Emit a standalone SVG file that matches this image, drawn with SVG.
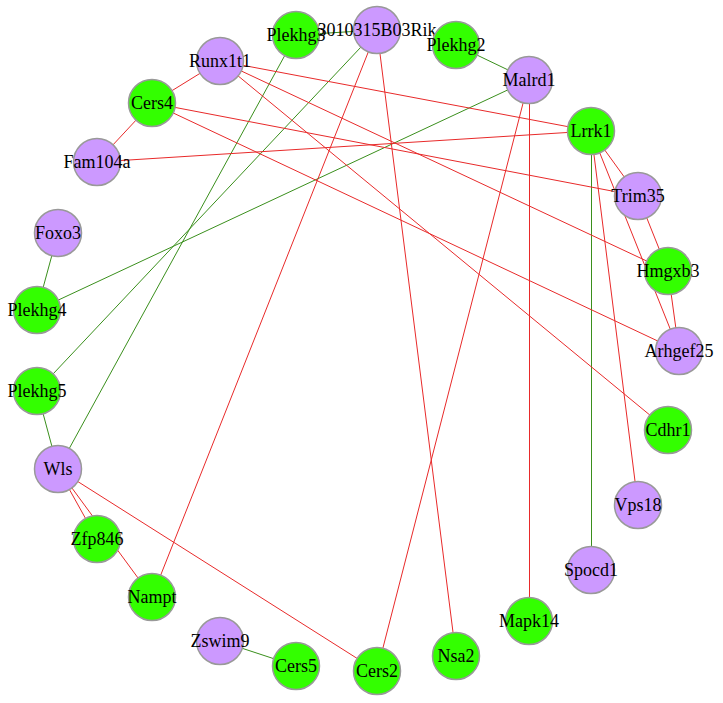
<svg xmlns="http://www.w3.org/2000/svg" width="723" height="703" viewBox="0 0 723 703">
<style>
.r{stroke:#e82a2a;stroke-width:1;fill:none}
.g{stroke:#3a8f1c;stroke-width:1;fill:none}
.p{fill:#cc99ff;stroke:#999999;stroke-width:1.5}
.q{fill:#33ff00;stroke:#999999;stroke-width:1.5}
text{font-family:"Liberation Serif","Times New Roman",serif;font-size:18px;fill:#000;text-anchor:middle}
</style>
<rect width="723" height="703" fill="#ffffff"/>
<g id="connectors">
<line class="g" x1="296" y1="35" x2="377" y2="30"/>
<line class="g" x1="456" y1="45" x2="529" y2="80"/>
<line class="g" x1="296" y1="35" x2="58" y2="469"/>
<line class="g" x1="377" y1="30" x2="37" y2="391"/>
<line class="g" x1="529" y1="80" x2="37" y2="310"/>
<line class="g" x1="58" y1="233" x2="37" y2="310"/>
<line class="g" x1="37" y1="391" x2="58" y2="469"/>
<line class="g" x1="220" y1="641" x2="296" y2="666"/>
<line class="g" x1="591.5" y1="131" x2="591.5" y2="570"/>
<line class="r" x1="220" y1="61" x2="152" y2="103"/>
<line class="r" x1="152" y1="103" x2="97" y2="162"/>
<line class="r" x1="97" y1="162" x2="591" y2="131"/>
<line class="r" x1="220" y1="61" x2="591" y2="131"/>
<line class="r" x1="220" y1="61" x2="668" y2="271"/>
<line class="r" x1="220" y1="61" x2="668" y2="430"/>
<line class="r" x1="152" y1="103" x2="638" y2="196"/>
<line class="r" x1="152" y1="103" x2="679" y2="351"/>
<line class="r" x1="591" y1="131" x2="638" y2="196"/>
<line class="r" x1="591" y1="131" x2="679" y2="351"/>
<line class="r" x1="591" y1="131" x2="638" y2="505"/>
<line class="r" x1="638" y1="196" x2="668" y2="271"/>
<line class="r" x1="668" y1="271" x2="679" y2="351"/>
<line class="r" x1="377" y1="30" x2="152" y2="597"/>
<line class="r" x1="377" y1="30" x2="456" y2="656"/>
<line class="r" x1="529" y1="80" x2="377" y2="671"/>
<line class="r" x1="529.5" y1="80" x2="529.5" y2="621" stroke="#c83a3a"/>
<line class="r" x1="58" y1="469" x2="97" y2="539"/>
<line class="r" x1="58" y1="469" x2="152" y2="597"/>
<line class="r" x1="58" y1="469" x2="377" y2="671"/>
</g>
<g id="n-Plekhg3"><circle class="q" cx="296" cy="35" r="23.5"/><text x="296" y="41">Plekhg3</text></g>
<g id="n-3010315B03Rik"><circle class="p" cx="377" cy="30" r="23.5"/><text x="377" y="36">3010315B03Rik</text></g>
<g id="n-Plekhg2"><circle class="q" cx="456" cy="45" r="23.5"/><text x="456" y="51">Plekhg2</text></g>
<g id="n-Malrd1"><circle class="p" cx="529" cy="80" r="23.5"/><text x="529" y="86">Malrd1</text></g>
<g id="n-Lrrk1"><circle class="q" cx="591" cy="131" r="23.5"/><text x="591" y="137">Lrrk1</text></g>
<g id="n-Trim35"><circle class="p" cx="638" cy="196" r="23.5"/><text x="638" y="202">Trim35</text></g>
<g id="n-Hmgxb3"><circle class="q" cx="668" cy="271" r="23.5"/><text x="668" y="277">Hmgxb3</text></g>
<g id="n-Arhgef25"><circle class="p" cx="679" cy="351" r="23.5"/><text x="679" y="357">Arhgef25</text></g>
<g id="n-Cdhr1"><circle class="q" cx="668" cy="430" r="23.5"/><text x="668" y="436">Cdhr1</text></g>
<g id="n-Vps18"><circle class="p" cx="638" cy="505" r="23.5"/><text x="638" y="511">Vps18</text></g>
<g id="n-Spocd1"><circle class="p" cx="591" cy="570" r="23.5"/><text x="591" y="576">Spocd1</text></g>
<g id="n-Mapk14"><circle class="q" cx="529" cy="621" r="23.5"/><text x="529" y="627">Mapk14</text></g>
<g id="n-Nsa2"><circle class="q" cx="456" cy="656" r="23.5"/><text x="456" y="662">Nsa2</text></g>
<g id="n-Cers2"><circle class="q" cx="377" cy="671" r="23.5"/><text x="377" y="677">Cers2</text></g>
<g id="n-Cers5"><circle class="q" cx="296" cy="666" r="23.5"/><text x="296" y="672">Cers5</text></g>
<g id="n-Zswim9"><circle class="p" cx="220" cy="641" r="23.5"/><text x="220" y="647">Zswim9</text></g>
<g id="n-Nampt"><circle class="q" cx="152" cy="597" r="23.5"/><text x="152" y="603">Nampt</text></g>
<g id="n-Zfp846"><circle class="q" cx="97" cy="539" r="23.5"/><text x="97" y="545">Zfp846</text></g>
<g id="n-Wls"><circle class="p" cx="58" cy="469" r="23.5"/><text x="58" y="475">Wls</text></g>
<g id="n-Plekhg5"><circle class="q" cx="37" cy="391" r="23.5"/><text x="37" y="397">Plekhg5</text></g>
<g id="n-Plekhg4"><circle class="q" cx="37" cy="310" r="23.5"/><text x="37" y="316">Plekhg4</text></g>
<g id="n-Foxo3"><circle class="p" cx="58" cy="233" r="23.5"/><text x="58" y="239">Foxo3</text></g>
<g id="n-Fam104a"><circle class="p" cx="97" cy="162" r="23.5"/><text x="97" y="168">Fam104a</text></g>
<g id="n-Cers4"><circle class="q" cx="152" cy="103" r="23.5"/><text x="152" y="109">Cers4</text></g>
<g id="n-Runx1t1"><circle class="p" cx="220" cy="61" r="23.5"/><text x="220" y="67">Runx1t1</text></g>
</svg>
